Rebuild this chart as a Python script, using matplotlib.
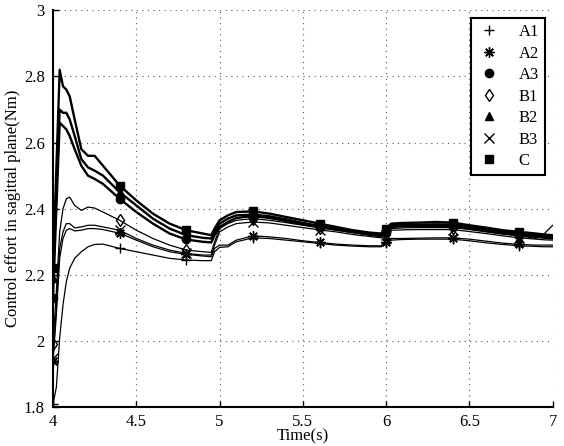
import numpy as np
import matplotlib
matplotlib.use("Agg")
import matplotlib.pyplot as plt
from matplotlib.lines import Line2D

plt.rcParams['font.family'] = ['Liberation Serif', 'DejaVu Serif']

# sample times (s)
t = [4.00, 4.02, 4.04, 4.06, 4.08, 4.10, 4.13, 4.17, 4.21, 4.25, 4.30,
     4.40, 4.50, 4.60, 4.70, 4.80, 4.90, 4.95, 4.97, 5.00, 5.05, 5.10,
     5.20, 5.30, 5.40, 5.50, 5.60, 5.70, 5.80, 5.90, 5.97, 6.00, 6.03,
     6.10, 6.20, 6.30, 6.40, 6.50, 6.60, 6.70, 6.80, 6.90, 6.95, 7.00]

marker_times = [4.0, 4.4, 4.8, 5.2, 5.6, 6.0, 6.4, 6.8]

C = [2.22, 2.52, 2.82, 2.77, 2.76, 2.74, 2.67, 2.58, 2.56, 2.56, 2.53,
     2.47, 2.425, 2.385, 2.355, 2.335, 2.325, 2.32, 2.34, 2.365, 2.38, 2.39,
     2.392, 2.385, 2.375, 2.365, 2.355, 2.345, 2.335, 2.328, 2.325, 2.34, 2.355,
     2.357, 2.358, 2.36, 2.358, 2.35, 2.343, 2.335, 2.33, 2.325, 2.322, 2.32]
B2 = [2.19, 2.45, 2.70, 2.69, 2.69, 2.67, 2.62, 2.55, 2.525, 2.515, 2.50,
      2.45, 2.41, 2.37, 2.34, 2.32, 2.312, 2.31, 2.33, 2.355, 2.37, 2.38,
      2.382, 2.377, 2.368, 2.357, 2.348, 2.34, 2.332, 2.325, 2.32, 2.335, 2.35,
      2.352, 2.352, 2.353, 2.352, 2.345, 2.338, 2.33, 2.325, 2.32, 2.317, 2.315]
A3 = [2.13, 2.40, 2.66, 2.65, 2.64, 2.62, 2.58, 2.53, 2.50, 2.49, 2.475,
      2.43, 2.39, 2.355, 2.325, 2.307, 2.30, 2.298, 2.32, 2.345, 2.36, 2.372,
      2.378, 2.372, 2.363, 2.353, 2.345, 2.337, 2.33, 2.322, 2.318, 2.33, 2.345,
      2.347, 2.348, 2.348, 2.347, 2.34, 2.333, 2.326, 2.32, 2.315, 2.312, 2.31]
B1 = [1.99, 2.15, 2.33, 2.40, 2.43, 2.435, 2.41, 2.395, 2.405, 2.402, 2.39,
      2.365, 2.335, 2.31, 2.29, 2.275, 2.27, 2.268, 2.30, 2.34, 2.355, 2.365,
      2.37, 2.365, 2.358, 2.35, 2.342, 2.335, 2.327, 2.32, 2.315, 2.325, 2.34,
      2.342, 2.343, 2.343, 2.343, 2.337, 2.33, 2.323, 2.318, 2.31, 2.325, 2.35]
B3 = [1.95, 2.10, 2.28, 2.33, 2.355, 2.355, 2.342, 2.345, 2.35, 2.35, 2.345,
      2.335, 2.31, 2.29, 2.275, 2.265, 2.26, 2.26, 2.29, 2.33, 2.345, 2.355,
      2.36, 2.357, 2.35, 2.343, 2.336, 2.33, 2.322, 2.316, 2.312, 2.32, 2.335,
      2.336, 2.337, 2.337, 2.337, 2.331, 2.325, 2.318, 2.312, 2.308, 2.306, 2.305]
A2 = [1.94, 2.08, 2.25, 2.31, 2.335, 2.34, 2.333, 2.335, 2.34, 2.34, 2.337,
      2.326, 2.305, 2.285, 2.27, 2.262, 2.257, 2.255, 2.28, 2.29, 2.29, 2.305,
      2.318, 2.315, 2.31, 2.303, 2.298, 2.293, 2.29, 2.288, 2.288, 2.30, 2.31,
      2.31, 2.311, 2.312, 2.312, 2.308, 2.302, 2.296, 2.292, 2.29, 2.29, 2.29]
A1 = [1.81, 1.86, 2.01, 2.11, 2.18, 2.22, 2.25, 2.27, 2.285, 2.292, 2.293,
      2.28, 2.27, 2.26, 2.25, 2.245, 2.243, 2.243, 2.27, 2.283, 2.285, 2.30,
      2.312, 2.31, 2.305, 2.30, 2.295, 2.29, 2.287, 2.285, 2.285, 2.295, 2.305,
      2.307, 2.308, 2.308, 2.308, 2.303, 2.297, 2.292, 2.288, 2.286, 2.285, 2.285]

series = [
    ("A1", A1, '+', 'k', 0.9),
    ("A2", A2, (8, 2, 0), 'k', 0.9),
    ("A3", A3, 'o', 'k', 1.7),
    ("B1", B1, 'd', 'none', 0.9),
    ("B2", B2, '^', 'k', 1.7),
    ("B3", B3, 'x', 'k', 0.9),
    ("C", C, 's', 'k', 1.7),
]

t_arr = np.array(t)
mark_idx = [int(np.argmin(np.abs(t_arr - m))) for m in marker_times]

fig = plt.figure(figsize=(5.64, 4.46), dpi=100)
ax = fig.add_axes([0.094, 0.087, 0.886, 0.89])

handles = []
for name, vals, mk, fc, lw in series:
    ms = 7.5 if mk in ('+', 'x', (8, 2, 0)) else 6
    ax.plot(t, vals, color='k', lw=lw, marker=mk, markevery=mark_idx,
            ms=ms, mfc=fc, mec='k', mew=1.0)
    handles.append(Line2D([], [], ls='none', marker=mk, color='k', ms=ms,
                          mfc=fc, mec='k', mew=1.0, label=name))

ax.set_xlim(4, 7)
ax.set_ylim(1.8, 3)
ax.set_xticks([4, 4.5, 5, 5.5, 6, 6.5, 7])
ax.set_yticks([1.8, 2, 2.2, 2.4, 2.6, 2.8, 3])
ax.xaxis.set_major_formatter(plt.FuncFormatter(lambda v, p: f"{v:g}"))
ax.yaxis.set_major_formatter(plt.FuncFormatter(lambda v, p: f"{v:g}"))
ax.tick_params(direction='in', labelsize=12, length=4, width=1, pad=6)
ax.tick_params(axis='x', pad=5)
ax.grid(True, color='0.35', linestyle=(0, (1, 4)), lw=0.8)
for side in ('top', 'right'):
    ax.spines[side].set_visible(False)
for side in ('left', 'bottom'):
    ax.spines[side].set_linewidth(1.5)

ax.set_xlabel("Time(s)", fontsize=12, labelpad=-1)
ax.set_ylabel("Control effort in sagittal plane(Nm)", fontsize=12, labelpad=2)

leg = ax.legend(handles=handles, loc='upper right', fontsize=12,
                frameon=True, fancybox=False, edgecolor='k', framealpha=1,
                handlelength=1.5, handletextpad=1.0, borderpad=0.35,
                labelspacing=0.33, borderaxespad=0,
                bbox_to_anchor=(0.984, 0.98))
leg.get_frame().set_linewidth(1.5)

fig.savefig("out.png", dpi=100)
